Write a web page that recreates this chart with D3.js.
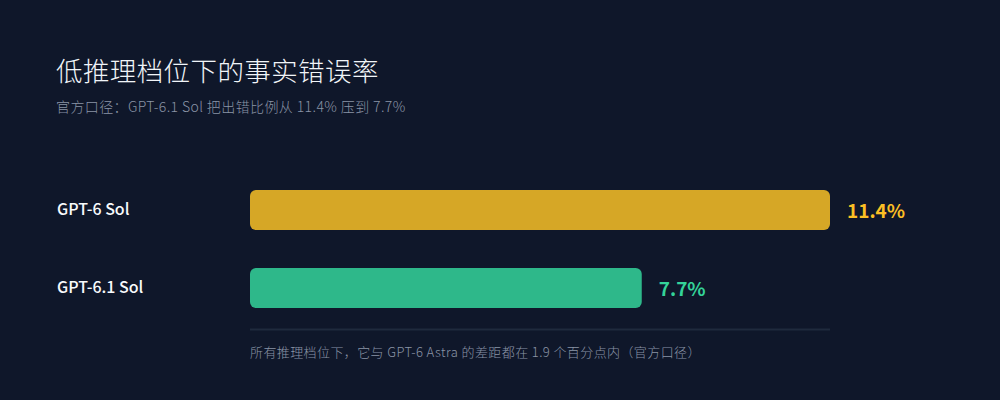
<!DOCTYPE html>
<html>
<head>
<meta charset="utf-8">
<script src="https://cdn.jsdelivr.net/npm/d3@7"></script>
<style>
  html, body { margin: 0; padding: 0; background: #0f172a; }
  svg { display: block; }
</style>
</head>
<body>
<svg id="chart"></svg>
<script>
const models = ["GPT-6 Sol", "GPT-6.1 Sol"];
const errorRates = [11.4, 7.7];
const barColors = ["#d6a726", "#2eb88a"];
const valueColors = ["#fbbf24", "#34d399"];

const title = "低推理档位下的事实错误率";
const subtitle = "官方口径：GPT-6.1 Sol 把出错比例从 11.4% 压到 7.7%";
const footnote = "所有推理档位下，它与 GPT-6 Astra 的差距都在 1.9 个百分点内（官方口径）";

const width = 1000, height = 400;
const font = "'Noto Sans CJK SC', 'Noto Sans', sans-serif";

const svg = d3.select("#chart")
    .attr("width", width)
    .attr("height", height)
    .style("font-family", font);

svg.append("rect")
    .attr("width", width)
    .attr("height", height)
    .attr("fill", "#0f172a");

svg.append("text")
    .attr("x", 56)
    .attr("y", 81)
    .attr("fill", "#f1f5f9")
    .attr("font-size", 26.5)
    .attr("font-weight", 300)
    .attr("letter-spacing", 0.4)
    .text(title);

svg.append("text")
    .attr("x", 56)
    .attr("y", 112)
    .attr("fill", "#8a94a6")
    .attr("font-size", 14)
    .attr("font-weight", 300)
    .attr("letter-spacing", 0.4)
    .text(subtitle);

const x = d3.scaleLinear()
    .domain([0, d3.max(errorRates)])
    .range([250, 830]);

const y = d3.scaleBand()
    .domain(models)
    .range([190, 308])
    .paddingInner(38 / 78)
    .paddingOuter(0);

const rows = svg.append("g")
    .selectAll("g")
    .data(models)
    .join("g");

rows.append("rect")
    .attr("x", x(0))
    .attr("y", d => y(d))
    .attr("width", (d, i) => x(errorRates[i]) - x(0))
    .attr("height", y.bandwidth())
    .attr("rx", 6)
    .attr("fill", (d, i) => barColors[i]);

rows.append("text")
    .attr("x", 57)
    .attr("y", d => y(d) + y.bandwidth() / 2 - 1)
    .attr("dy", "0.35em")
    .attr("fill", "#f8fafc")
    .attr("font-size", 16)
    .attr("font-weight", 500)
    .text(d => d);

rows.append("text")
    .attr("x", (d, i) => x(errorRates[i]) + 17)
    .attr("y", d => y(d) + y.bandwidth() / 2 + 1)
    .attr("dy", "0.35em")
    .attr("fill", (d, i) => valueColors[i])
    .attr("font-size", 19)
    .attr("font-weight", 700)
    .text((d, i) => errorRates[i].toFixed(1) + "%");

// baseline rule under the bars
svg.append("line")
    .attr("x1", x(0))
    .attr("x2", x(d3.max(errorRates)))
    .attr("y1", 329.5)
    .attr("y2", 329.5)
    .attr("stroke", "#1f2a3d")
    .attr("stroke-width", 2);

svg.append("text")
    .attr("x", 250)
    .attr("y", 357)
    .attr("fill", "#8a94a6")
    .attr("font-size", 13)
    .attr("font-weight", 300)
    .attr("letter-spacing", 0.4)
    .text(footnote);
</script>
</body>
</html>
